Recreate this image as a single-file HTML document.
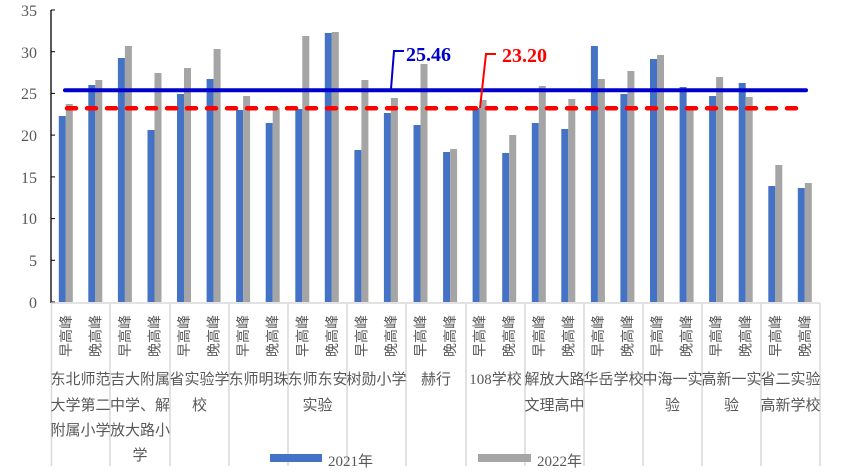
<!DOCTYPE html>
<html><head><meta charset="utf-8"><style>
html,body{margin:0;padding:0;background:#fff;}
svg{display:block;}
.yt{font-family:"Liberation Serif",serif;font-size:16px;fill:#595959;text-anchor:end;}
.rl{font-family:"Liberation Sans","Noto Sans CJK SC",sans-serif;font-size:14px;fill:#595959;}
.cn{font-family:"Liberation Serif","Noto Sans CJK SC",sans-serif;font-size:15px;fill:#595959;text-anchor:middle;}
</style></head><body>
<svg width="852" height="473" viewBox="0 0 852 473" xmlns="http://www.w3.org/2000/svg">
<g class="yt">
<text x="37" y="308">0</text><text x="37" y="266">5</text><text x="37" y="224">10</text><text x="37" y="183">15</text><text x="37" y="141">20</text><text x="37" y="99">25</text><text x="37" y="58">30</text><text x="37" y="16">35</text>
</g>
<g fill="#4472C4">
<rect x="58.8" y="116" width="7" height="186"/><rect x="88.3" y="85" width="7" height="217"/><rect x="117.9" y="58" width="7" height="244"/><rect x="147.5" y="130" width="7" height="172"/><rect x="177" y="94" width="7" height="208"/><rect x="206.6" y="79" width="7" height="223"/><rect x="236.1" y="110" width="7" height="192"/><rect x="265.7" y="123" width="7" height="179"/><rect x="295.3" y="109" width="7" height="193"/><rect x="324.8" y="33" width="7" height="269"/><rect x="354.4" y="150" width="7" height="152"/><rect x="383.9" y="113" width="7" height="189"/><rect x="413.5" y="125" width="7" height="177"/><rect x="443.1" y="152" width="7" height="150"/><rect x="472.6" y="108" width="7" height="194"/><rect x="502.2" y="153" width="7" height="149"/><rect x="531.8" y="123" width="7" height="179"/><rect x="561.3" y="129" width="7" height="173"/><rect x="590.9" y="46" width="7" height="256"/><rect x="620.4" y="94" width="7" height="208"/><rect x="650" y="59" width="7" height="243"/><rect x="679.6" y="87" width="7" height="215"/><rect x="709.1" y="96" width="7" height="206"/><rect x="738.7" y="83" width="7" height="219"/><rect x="768.3" y="186" width="7" height="116"/><rect x="797.8" y="188" width="7" height="114"/>
</g>
<g fill="#A5A5A5">
<rect x="65.8" y="104" width="7" height="198"/><rect x="95.3" y="80" width="7" height="222"/><rect x="124.9" y="46" width="7" height="256"/><rect x="154.5" y="73" width="7" height="229"/><rect x="184" y="68" width="7" height="234"/><rect x="213.6" y="49" width="7" height="253"/><rect x="243.1" y="96" width="7" height="206"/><rect x="272.7" y="108" width="7" height="194"/><rect x="302.3" y="36" width="7" height="266"/><rect x="331.8" y="32" width="7" height="270"/><rect x="361.4" y="80" width="7" height="222"/><rect x="390.9" y="98" width="7" height="204"/><rect x="420.5" y="64" width="7" height="238"/><rect x="450.1" y="149" width="7" height="153"/><rect x="479.6" y="100" width="7" height="202"/><rect x="509.2" y="135" width="7" height="167"/><rect x="538.8" y="86" width="7" height="216"/><rect x="568.3" y="99" width="7" height="203"/><rect x="597.9" y="79" width="7" height="223"/><rect x="627.4" y="71" width="7" height="231"/><rect x="657" y="55" width="7" height="247"/><rect x="686.6" y="108" width="7" height="194"/><rect x="716.1" y="77" width="7" height="225"/><rect x="745.7" y="97" width="7" height="205"/><rect x="775.3" y="165" width="7" height="137"/><rect x="804.8" y="183" width="7" height="119"/>
</g>
<!-- axes -->
<line x1="51" y1="10" x2="51" y2="303" stroke="#000" stroke-width="1.3"/>
<g stroke="#000" stroke-width="1"><line x1="51" y1="302" x2="55" y2="302"/><line x1="51" y1="260.3" x2="55" y2="260.3"/><line x1="51" y1="218.6" x2="55" y2="218.6"/><line x1="51" y1="176.9" x2="55" y2="176.9"/><line x1="51" y1="135.1" x2="55" y2="135.1"/><line x1="51" y1="93.4" x2="55" y2="93.4"/><line x1="51" y1="51.7" x2="55" y2="51.7"/><line x1="51" y1="10" x2="55" y2="10"/></g>
<line x1="51" y1="303" x2="820" y2="303" stroke="#d9d9d9" stroke-width="1.5"/>
<g stroke="#d9d9d9" stroke-width="1.5">
<line x1="51.5" y1="303" x2="51.5" y2="466"/><line x1="110" y1="303" x2="110" y2="466"/><line x1="170" y1="303" x2="170" y2="466"/><line x1="229" y1="303" x2="229" y2="466"/><line x1="288" y1="303" x2="288" y2="466"/><line x1="347" y1="303" x2="347" y2="466"/><line x1="406" y1="303" x2="406" y2="466"/><line x1="466" y1="303" x2="466" y2="466"/><line x1="525" y1="303" x2="525" y2="466"/><line x1="584" y1="303" x2="584" y2="466"/><line x1="643" y1="303" x2="643" y2="466"/><line x1="702" y1="303" x2="702" y2="466"/><line x1="761" y1="303" x2="761" y2="466"/><line x1="820" y1="303" x2="820" y2="466"/>
</g>
<!-- reference lines -->
<line x1="65" y1="90.3" x2="806" y2="90.3" stroke="#0000CC" stroke-width="4" stroke-linecap="round"/>
<line x1="67" y1="108.3" x2="797" y2="108.3" stroke="#FF0000" stroke-width="4.5" stroke-linecap="round" stroke-dasharray="9 11"/>
<polyline points="391,89 394,51 404,51" fill="none" stroke="#0000CC" stroke-width="2"/>
<text x="406" y="61" font-family="Liberation Serif,serif" font-weight="bold" font-size="20" fill="#0000CC">25.46</text>
<polyline points="480,108 486,54 496,54" fill="none" stroke="#FF0000" stroke-width="2"/>
<text x="502" y="62" font-family="Liberation Serif,serif" font-weight="bold" font-size="20" fill="#FF0000">23.20</text>
<!-- rotated labels -->
<g class="rl">
<text transform="translate(70.8,357) rotate(-90)">早高峰</text><text transform="translate(100.3,357) rotate(-90)">晚高峰</text>
<text transform="translate(129.9,357) rotate(-90)">早高峰</text><text transform="translate(159.5,357) rotate(-90)">晚高峰</text>
<text transform="translate(189,357) rotate(-90)">早高峰</text><text transform="translate(218.6,357) rotate(-90)">晚高峰</text>
<text transform="translate(248.1,357) rotate(-90)">早高峰</text><text transform="translate(277.7,357) rotate(-90)">晚高峰</text>
<text transform="translate(307.3,357) rotate(-90)">早高峰</text><text transform="translate(336.8,357) rotate(-90)">晚高峰</text>
<text transform="translate(366.4,357) rotate(-90)">早高峰</text><text transform="translate(395.9,357) rotate(-90)">晚高峰</text>
<text transform="translate(425.5,357) rotate(-90)">早高峰</text><text transform="translate(455.1,357) rotate(-90)">晚高峰</text>
<text transform="translate(484.6,357) rotate(-90)">早高峰</text><text transform="translate(514.2,357) rotate(-90)">晚高峰</text>
<text transform="translate(543.8,357) rotate(-90)">早高峰</text><text transform="translate(573.3,357) rotate(-90)">晚高峰</text>
<text transform="translate(602.9,357) rotate(-90)">早高峰</text><text transform="translate(632.4,357) rotate(-90)">晚高峰</text>
<text transform="translate(662,357) rotate(-90)">早高峰</text><text transform="translate(691.6,357) rotate(-90)">晚高峰</text>
<text transform="translate(721.1,357) rotate(-90)">早高峰</text><text transform="translate(750.7,357) rotate(-90)">晚高峰</text>
<text transform="translate(780.3,357) rotate(-90)">早高峰</text><text transform="translate(809.8,357) rotate(-90)">晚高峰</text>
</g>
<!-- category names -->
<g class="cn">
<text x="80.5" y="384">东北师范</text><text x="80.5" y="410">大学第二</text><text x="80.5" y="435">附属小学</text>
<text x="140" y="384">吉大附属</text><text x="140" y="410">中学、解</text><text x="140" y="435">放大路小</text><text x="140" y="460">学</text>
<text x="199.5" y="384">省实验学</text><text x="199.5" y="410">校</text>
<text x="258.5" y="384">东师明珠</text>
<text x="317.5" y="384">东师东安</text><text x="317.5" y="410">实验</text>
<text x="376.5" y="384">树勋小学</text>
<text x="436" y="384">赫行</text>
<text x="495.5" y="384">108学校</text>
<text x="554.5" y="384">解放大路</text><text x="554.5" y="410">文理高中</text>
<text x="613.5" y="384">华岳学校</text>
<text x="672.5" y="384">中海一实</text><text x="672.5" y="410">验</text>
<text x="731.5" y="384">高新一实</text><text x="731.5" y="410">验</text>
<text x="790.5" y="384">省二实验</text><text x="790.5" y="410">高新学校</text>
</g>
<!-- legend -->
<rect x="270" y="454" width="52" height="8" fill="#4472C4"/>
<text x="328" y="466" class="cn" style="text-anchor:start">2021年</text>
<rect x="478" y="454" width="53" height="8" fill="#A5A5A5"/>
<text x="537" y="466" class="cn" style="text-anchor:start">2022年</text>
</svg>
</body></html>
